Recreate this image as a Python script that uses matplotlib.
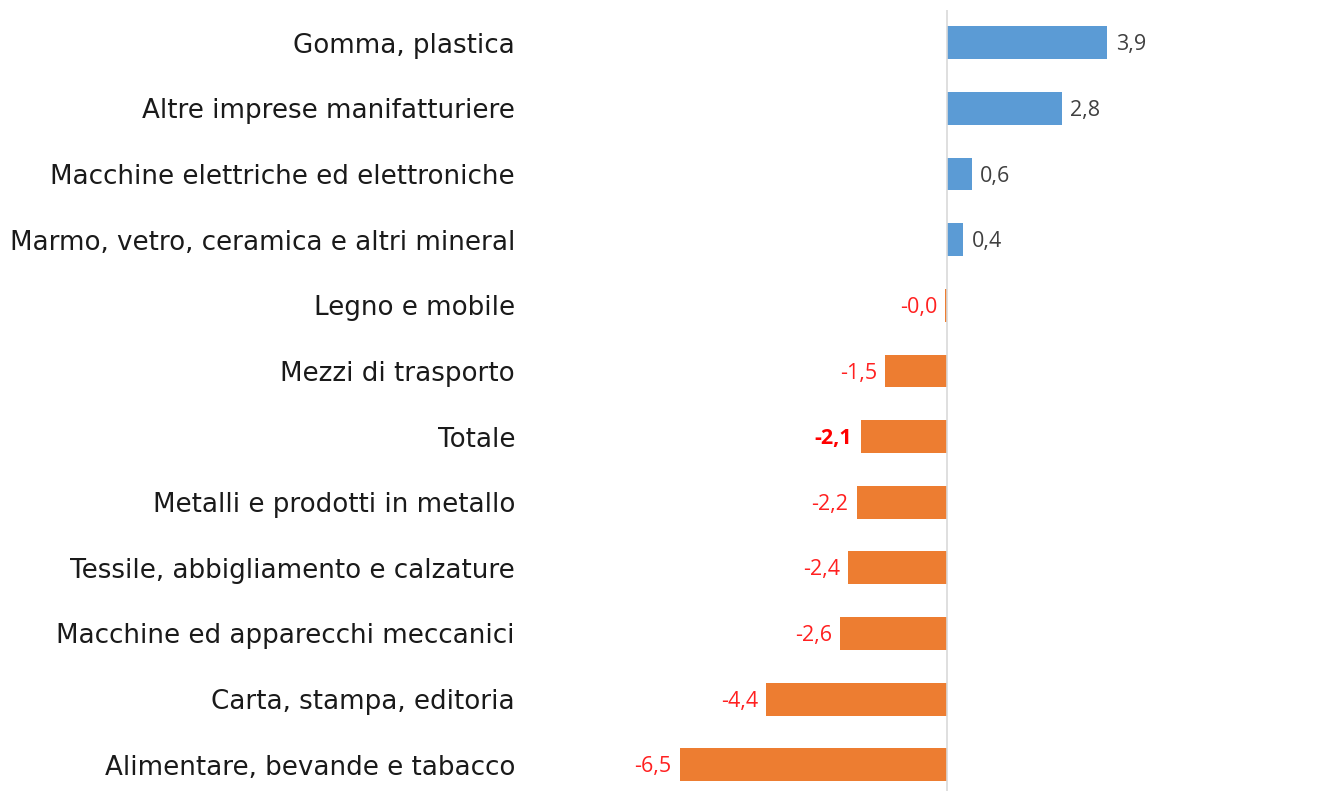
import matplotlib
matplotlib.use("Agg")
import matplotlib.pyplot as plt
import numpy as np

categorie = [
    "Gomma, plastica",
    "Altre imprese manifatturiere",
    "Macchine elettriche ed elettroniche",
    "Marmo, vetro, ceramica e altri mineral",
    "Legno e mobile",
    "Mezzi di trasporto",
    "Totale",
    "Metalli e prodotti in metallo",
    "Tessile, abbigliamento e calzature",
    "Macchine ed apparecchi meccanici",
    "Carta, stampa, editoria",
    "Alimentare, bevande e tabacco",
]
valori = [3.9, 2.8, 0.6, 0.4, -0.04, -1.5, -2.1, -2.2, -2.4, -2.6, -4.4, -6.5]

BLU = "#5B9BD5"
ARANCIO = "#ED7D31"

W, H, DPI = 1339, 791, 100
fig = plt.figure(figsize=(W / DPI, H / DPI), dpi=DPI)
ax = fig.add_axes([525 / W, 0, (W - 525) / W, (791 - 10) / H])

y = np.arange(len(categorie))
colori = [BLU if v > 0 else ARANCIO for v in valori]
ax.barh(y, valori, height=0.5, color=colori)

ax.set_xlim(-10.27, 9.54)
ax.set_ylim(11.4, -0.5)
ax.axvline(0, color="#D9D9D9", linewidth=1.2)

ax.set_yticks(y)
ax.set_yticklabels(categorie, fontsize=18.8, family="DejaVu Sans", color="#1a1a1a")
ax.tick_params(axis="y", length=0, pad=7.2)
ax.set_xticks([])
for s in ax.spines.values():
    s.set_visible(False)

for yi, v, nome in zip(y, valori, categorie):
    testo = f"{v:.1f}".replace(".", ",")
    if v > 0:
        ax.annotate(testo, (v, yi), xytext=(6, -1.5), textcoords="offset points",
                    ha="left", va="center", fontsize=15.5, color="#404040",
                    family="Open Sans")
    else:
        bold = nome == "Totale"
        ax.annotate(testo, (v, yi), xytext=(-6, -1.5), textcoords="offset points",
                    ha="right", va="center", fontsize=15.5,
                    color="#FF0000" if bold else "#FF2020",
                    fontweight="bold" if bold else "normal",
                    family="Open Sans")

fig.savefig("out.png", dpi=DPI, facecolor="white")
